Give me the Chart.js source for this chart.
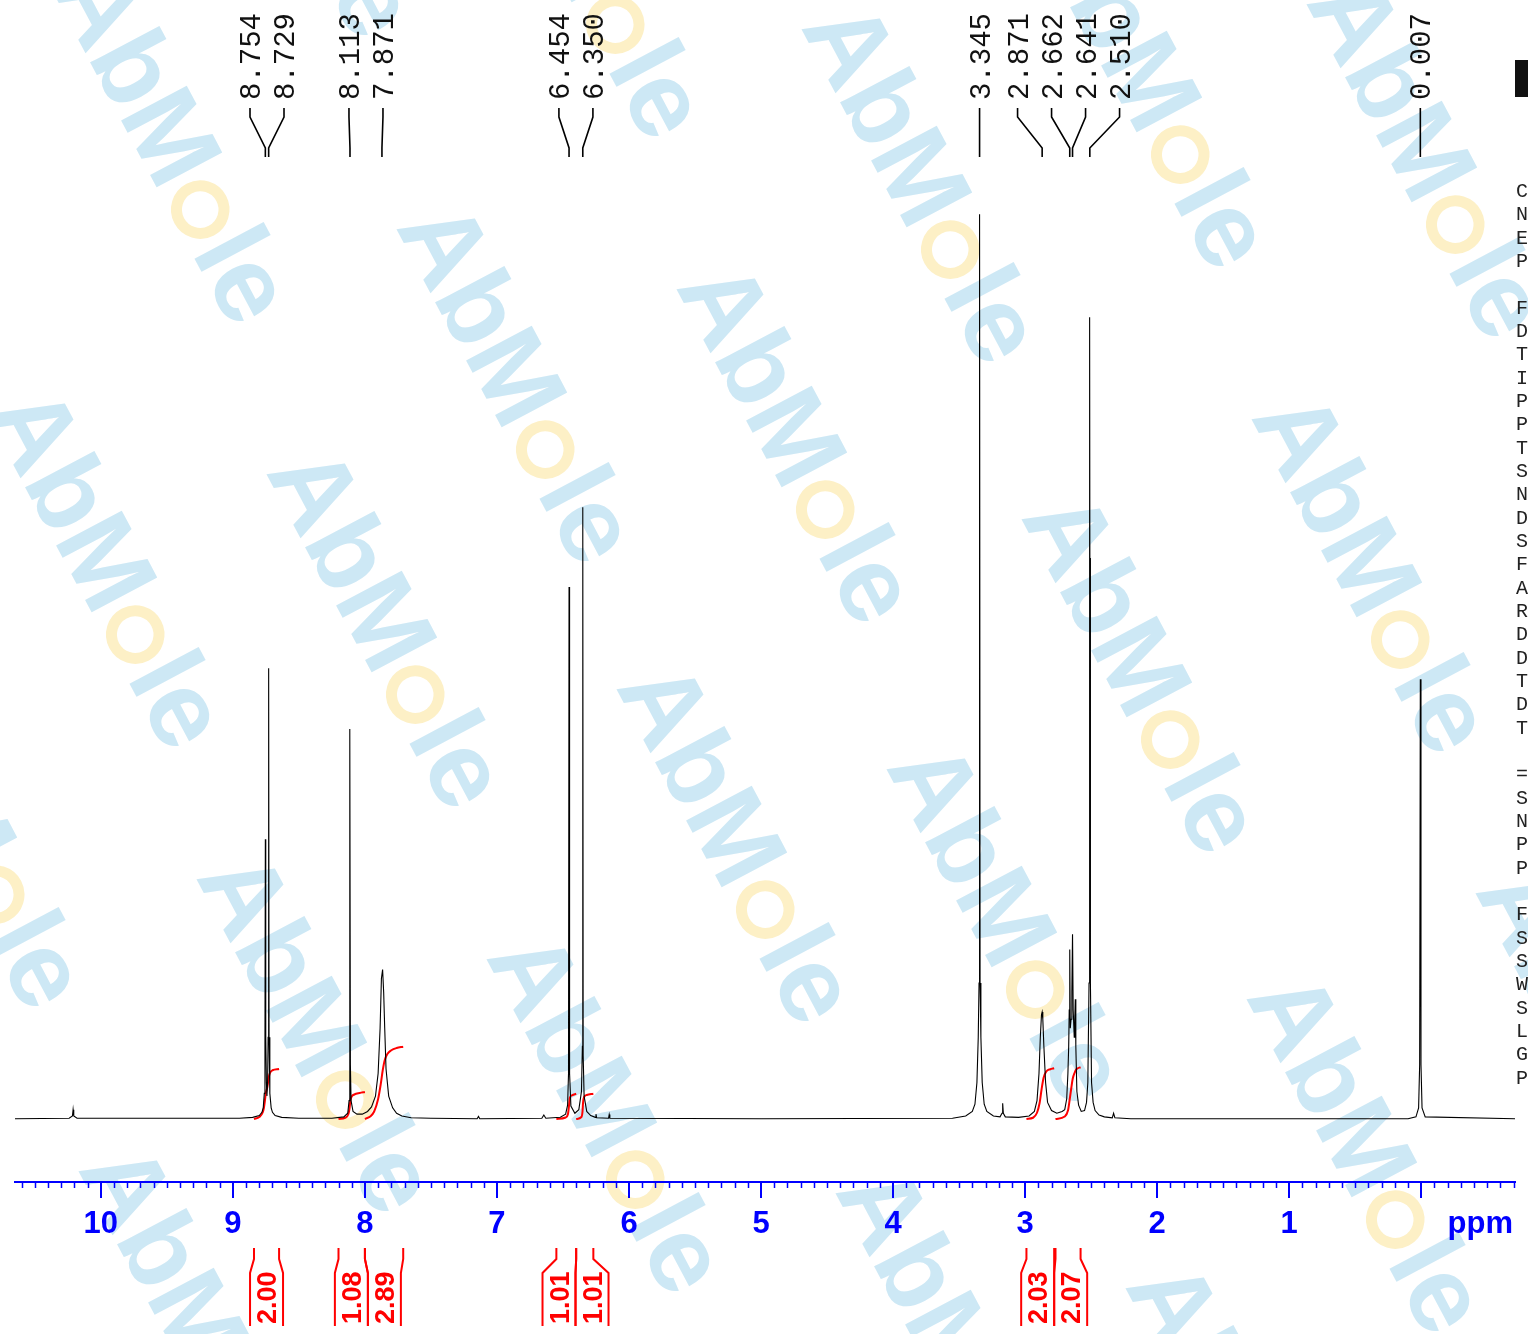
<!DOCTYPE html>
<html>
<head>
<meta charset="utf-8">
<script src="https://cdn.jsdelivr.net/npm/chart.js@4.4.0/dist/chart.umd.min.js"></script>
<style>
  html, body { margin: 0; padding: 0; background: #fff; }
  #wrap { width: 1528px; height: 1334px; }
</style>
</head>
<body>
<div id="wrap"><canvas id="nmr" width="1528" height="1334"></canvas></div>
<script>
// 1H NMR trace: ppm and relative intensity (3.345 ppm = 100)
const specPpm = [
  10.65, 10.24, 10.215, 10.21, 10.205, 10.18,
  8.95, 8.85, 8.80, 8.78, 8.77, 8.762, 8.757, 8.754, 8.751, 8.746, 8.742, 8.737, 8.733, 8.729, 8.726, 8.72, 8.71, 8.70, 8.68, 8.63, 8.50,
  8.25, 8.16, 8.13, 8.12, 8.116, 8.113, 8.110, 8.105, 8.09, 8.06,
  8.02, 7.98, 7.95, 7.92, 7.90, 7.885, 7.875, 7.866, 7.858, 7.85, 7.84, 7.82, 7.79, 7.76, 7.72, 7.65, 7.50,
  7.15, 7.14, 7.13, 6.66, 6.645, 6.63,
  6.52, 6.48, 6.465, 6.458, 6.454, 6.450, 6.44, 6.41, 6.38, 6.36, 6.353, 6.350, 6.347, 6.34, 6.32, 6.29,
  6.255, 6.25, 6.245, 6.155, 6.15, 6.145, 5.00,
  3.55, 3.45, 3.40, 3.38, 3.365, 3.355, 3.349, 3.345, 3.341, 3.335, 3.325, 3.31, 3.29, 3.24,
  3.19, 3.175, 3.17, 3.165, 3.15, 3.05,
  2.97, 2.93, 2.91, 2.895, 2.885, 2.876, 2.871, 2.866, 2.858, 2.845, 2.83, 2.80, 2.76,
  2.72, 2.70, 2.685, 2.676, 2.670, 2.666, 2.662, 2.658, 2.652, 2.646, 2.641, 2.636, 2.628, 2.624, 2.620, 2.616, 2.608, 2.595, 2.575,
  2.55, 2.535, 2.525, 2.516, 2.513, 2.5115, 2.510, 2.5085, 2.507, 2.504, 2.497, 2.485, 2.47, 2.44, 2.40,
  2.34, 2.33, 2.32, 2.20,
  0.10, 0.04, 0.02, 0.012, 0.007, 0.002, -0.006, -0.03, -0.71
];
const specInt = [
  0, 0.05, 0.3, 1.0, 0.3, 0.05,
  0.05, 0.15, 0.35, 0.7, 1.2, 2.8, 8, 30.9, 9, 4, 2.5, 4, 9, 49.8, 9, 2.8, 1.2, 0.7, 0.35, 0.15, 0.05,
  0.05, 0.2, 0.6, 2.0, 6, 43.1, 6, 2.0, 0.8, 0.5,
  0.5, 0.8, 1.3, 2.5, 5, 10, 15.5, 16.5, 14, 10, 5.5, 2.5, 1.2, 0.6, 0.3, 0.1, 0.05,
  0, 0.25, 0, 0.05, 0.4, 0.05,
  0.15, 0.5, 1.5, 5, 58.8, 5, 1.4, 0.6, 1.0, 3, 8, 67.6, 7, 2.5, 0.8, 0.35,
  0.15, 0.5, 0.1, 0.05, 0.45, 0.05, 0,
  0.05, 0.3, 0.8, 1.6, 4, 9, 15, 100, 15, 9, 4, 1.6, 0.8, 0.3,
  0.2, 0.6, 1.7, 0.6, 0.2, 0.15,
  0.3, 0.8, 2, 5, 9, 11.5, 11.8, 11, 8, 4, 1.8, 0.9, 0.6,
  0.8, 1.0, 2.2, 5, 8, 12, 18.7, 10, 11, 14, 20.4, 12, 9, 11, 13.2, 8, 3, 1.5, 0.8,
  0.9, 1.8, 4, 15, 62, 45, 88.6, 45, 62, 15, 4, 1.8, 0.9, 0.4, 0.2,
  0.1, 0.6, 0.1, 0,
  0, 0.2, 1.2, 6, 48.6, 6, 1.2, 0.2, 0
];

// picked peaks
const peakPpm = [8.754, 8.729, 8.113, 7.871, 6.454, 6.350, 3.345, 2.871, 2.662, 2.641, 2.510, 0.007];

// integral regions, values and the running-integral traces
const intFrom = [8.84, 8.20, 8.00, 6.55, 6.40, 2.99, 2.77];
const intTo = [8.65, 8.00, 7.71, 6.40, 6.27, 2.78, 2.58];
const intLabels = ['2.00', '1.08', '2.89', '1.01', '1.01', '2.03', '2.07'];
const intCurvePpm = [
  [8.84, 8.80, 8.775, 8.765, 8.757, 8.750, 8.740, 8.731, 8.725, 8.715, 8.70, 8.65],
  [8.20, 8.15, 8.125, 8.116, 8.110, 8.10, 8.08, 8.04, 8.00],
  [8.00, 7.96, 7.93, 7.90, 7.88, 7.865, 7.85, 7.83, 7.80, 7.76, 7.71],
  [6.55, 6.48, 6.462, 6.455, 6.448, 6.43, 6.40],
  [6.40, 6.36, 6.352, 6.348, 6.34, 6.32, 6.27],
  [2.99, 2.94, 2.91, 2.89, 2.875, 2.86, 2.84, 2.81, 2.78],
  [2.77, 2.70, 2.675, 2.662, 2.65, 2.64, 2.625, 2.61, 2.58]
];
const intCurveVal = [
  [0, 0.08, 0.25, 0.45, 0.75, 1.05, 1.25, 1.55, 1.75, 1.88, 1.95, 2.0],
  [0, 0.05, 0.2, 0.45, 0.75, 0.9, 0.98, 1.04, 1.08],
  [0, 0.1, 0.3, 0.8, 1.4, 1.95, 2.35, 2.6, 2.75, 2.84, 2.89],
  [0, 0.06, 0.2, 0.5, 0.85, 0.95, 1.01],
  [0, 0.08, 0.3, 0.65, 0.88, 0.96, 1.01],
  [0, 0.05, 0.25, 0.65, 1.2, 1.65, 1.9, 1.99, 2.03],
  [0, 0.1, 0.35, 0.8, 1.25, 1.6, 1.85, 2.0, 2.07]
];

// major ticks; 0 gets a tick but no number (the unit sits there)
const axisTicks = [0, 1, 2, 3, 4, 5, 6, 7, 8, 9, 10];
const unlabelled = [0];

// acquisition parameter block at the right edge (cut off by the page)
const paramLines = [
  'Current Data Parameters', 'NAME', 'EXPNO', 'PROCNO', '',
  'F2 - Acquisition Parameters', 'Date_', 'Time', 'INSTRUM', 'PROBHD', 'PULPROG', 'TD', 'SOLVENT',
  'NS', 'DS', 'SWH', 'FIDRES', 'AQ', 'RG', 'DW', 'DE', 'TE', 'D1', 'TD0', '',
  '======== CHANNEL f1 ========', 'SFO1', 'NUC1', 'P1', 'PLW1', '',
  'F2 - Processing parameters', 'SI', 'SF', 'WDW', 'SSB', 'LB', 'GB', 'PC'
];

// watermark centres (page pixels)
const marks = [
  [176, 141], [111, 566], [391, 626], [521, 381], [801, 441], [926, 181], [1156, 86],
  [1146, 671], [1376, 571], [1431, 156], [741, 841], [1011, 921], [321, 1031], [611, 1111],
  [-29, 826], [1371, 1151], [203, 1323], [960, 1345], [1250, 1440], [1600, 1045],
  [300, -145], [591, -44]
];

const BLUE = '#0000ff';
const RED = '#ff0000';
const SANS = '"Liberation Sans", Arial, sans-serif';
const MONO = '"Liberation Mono", "Courier New", monospace';

const xy = (xs, ys) => xs.map((v, i) => ({ x: v, y: ys[i] }));

// spread the peak labels so that they keep a minimum gap, centred on their peaks
function spreadLabels(px, gap) {
  let groups = px.map((p, i) => ({ idx: [i], c: p }));
  let merged = true;
  while (merged) {
    merged = false;
    for (let g = 0; g < groups.length - 1; g++) {
      const a = groups[g], b = groups[g + 1];
      const aRight = a.c + (a.idx.length - 1) * gap / 2;
      const bLeft = b.c - (b.idx.length - 1) * gap / 2;
      if (bLeft - aRight < gap) {
        const idx = a.idx.concat(b.idx);
        const c = idx.reduce((s, i) => s + px[i], 0) / idx.length;
        groups.splice(g, 2, { idx, c });
        merged = true;
        break;
      }
    }
  }
  const out = [];
  groups.forEach(g => g.idx.forEach((i, k) => { out[i] = g.c + (k - (g.idx.length - 1) / 2) * gap; }));
  return out;
}

const decor = {
  id: 'decor',
  beforeDraw(chart) {
    const ctx = chart.ctx;
    ctx.save();
    ctx.fillStyle = '#fff';
    ctx.fillRect(0, 0, chart.width, chart.height);
    const fs = 108;
    ctx.font = 'bold ' + fs + 'px ' + SANS;
    const wA = ctx.measureText('AbM').width;
    const wo = ctx.measureText('o').width;
    const wl = ctx.measureText('le').width;
    const W = wA + wo + wl;
    marks.forEach(([cx, cy]) => {
      ctx.save();
      ctx.translate(cx, cy);
      ctx.rotate(62 * Math.PI / 180);
      const x0 = -W / 2, base = fs * 0.36;
      ctx.fillStyle = '#cde8f5';
      ctx.textAlign = 'left';
      ctx.textBaseline = 'alphabetic';
      ctx.fillText('AbM', x0, base);
      ctx.fillText('le', x0 + wA + wo, base);
      ctx.strokeStyle = '#fdf0c6';
      ctx.lineWidth = 11;
      ctx.beginPath();
      ctx.arc(x0 + wA + wo / 2, base - fs * 0.26, fs * 0.22, 0, 2 * Math.PI);
      ctx.stroke();
      ctx.restore();
    });
    ctx.restore();
  },
  afterDraw(chart) {
    const ctx = chart.ctx;
    const x = chart.scales.x;
    const bottom = chart.chartArea.bottom;
    ctx.save();

    // minor ticks every 0.1 ppm
    ctx.strokeStyle = BLUE;
    ctx.lineWidth = 1.5;
    ctx.beginPath();
    for (let k = Math.ceil(x.min * 10); k <= Math.floor(x.max * 10); k++) {
      if (k % 10 === 0) continue;
      const p = Math.round(x.getPixelForValue(k / 10)) + 0.5;
      ctx.moveTo(p, bottom);
      ctx.lineTo(p, bottom + 6);
    }
    ctx.stroke();

    // axis unit
    ctx.fillStyle = BLUE;
    ctx.font = 'bold 31px ' + SANS;
    ctx.textAlign = 'right';
    ctx.textBaseline = 'alphabetic';
    ctx.fillText('ppm', 1513, 1233);

    // peak labels with their leader lines
    const px = peakPpm.map(p => x.getPixelForValue(p));
    const lx = spreadLabels(px, 34);
    ctx.strokeStyle = '#000';
    ctx.fillStyle = '#111';
    ctx.lineWidth = 1.6;
    ctx.font = '29px ' + MONO;
    px.forEach((p, i) => {
      ctx.beginPath();
      ctx.moveTo(lx[i], 108);
      ctx.lineTo(lx[i], 117);
      ctx.lineTo(p, 148);
      ctx.lineTo(p, 157);
      ctx.stroke();
      ctx.save();
      ctx.translate(lx[i] + 10, 100);
      ctx.rotate(-Math.PI / 2);
      ctx.textAlign = 'left';
      ctx.fillText(peakPpm[i].toFixed(3), 0, 0);
      ctx.restore();
    });

    // integral brackets under the axis
    const cols = intFrom.map((f, i) => {
      const a = x.getPixelForValue(f), b = x.getPixelForValue(intTo[i]);
      const c = (a + b) / 2;
      return { a, b, l: c - 16.5, r: c + 16.5 };
    });
    for (let i = 1; i < cols.length; i++) {
      const ov = cols[i - 1].r - cols[i].l;
      if (ov > 0) {
        cols[i - 1].l -= ov / 2; cols[i - 1].r -= ov / 2;
        cols[i].l += ov / 2; cols[i].r += ov / 2;
      }
    }
    ctx.strokeStyle = RED;
    ctx.fillStyle = RED;
    ctx.lineWidth = 2;
    ctx.font = 'bold 27px ' + SANS;
    cols.forEach((c, i) => {
      ctx.beginPath();
      ctx.moveTo(c.a, 1248); ctx.lineTo(c.a, 1259); ctx.lineTo(c.l, 1273); ctx.lineTo(c.l, 1326);
      ctx.moveTo(c.b, 1248); ctx.lineTo(c.b, 1259); ctx.lineTo(c.r, 1273); ctx.lineTo(c.r, 1326);
      ctx.stroke();
      ctx.save();
      ctx.translate((c.l + c.r) / 2 + 9.7, 1324);
      ctx.rotate(-Math.PI / 2);
      ctx.textAlign = 'left';
      ctx.fillText(intLabels[i], 0, 0);
      ctx.restore();
    });

    // parameter column, mostly outside the page
    ctx.fillStyle = '#222';
    ctx.font = '20px ' + MONO;
    ctx.textAlign = 'left';
    paramLines.forEach((t, i) => ctx.fillText(t, 1516, 197 + i * 23.33));
    ctx.fillStyle = '#111';
    ctx.fillRect(1515, 60, 13, 37);

    ctx.restore();
  }
};

const datasets = [{
  label: 'spectrum',
  data: xy(specPpm, specInt),
  yAxisID: 'y',
  borderColor: '#000',
  borderWidth: 1.1,
  pointRadius: 0,
  tension: 0
}];
intCurvePpm.forEach((ppm, i) => datasets.push({
  label: 'integral ' + intLabels[i],
  data: xy(ppm, intCurveVal[i]),
  yAxisID: 'yi',
  borderColor: RED,
  borderWidth: 2,
  pointRadius: 0,
  cubicInterpolationMode: 'monotone'
}));

const chart = new Chart(document.getElementById('nmr'), {
  type: 'line',
  data: { datasets },
  options: {
    responsive: false,
    animation: false,
    devicePixelRatio: 1,
    layout: { padding: { left: 15, right: 13, top: 160, bottom: 0 } },
    plugins: { legend: { display: false }, tooltip: { enabled: false } },
    scales: {
      x: {
        type: 'linear',
        reverse: true,
        min: -0.71,
        max: 10.65,
        afterBuildTicks: s => { s.ticks = axisTicks.map(v => ({ value: v })); },
        afterFit: s => { s.height = 152; },
        grid: { drawOnChartArea: false, color: BLUE, lineWidth: 2, tickLength: 16 },
        border: { display: true, color: BLUE, width: 2 },
        ticks: {
          color: BLUE,
          padding: 8,
          maxRotation: 0,
          autoSkip: false,
          font: { family: SANS, size: 31, weight: 'bold' },
          callback: v => (unlabelled.includes(v) ? '' : String(v))
        }
      },
      y: { display: false, min: -7, max: 106 },
      yi: { display: false, min: -2.52, max: 38.36 }
    }
  },
  plugins: [decor]
});
</script>
</body>
</html>
